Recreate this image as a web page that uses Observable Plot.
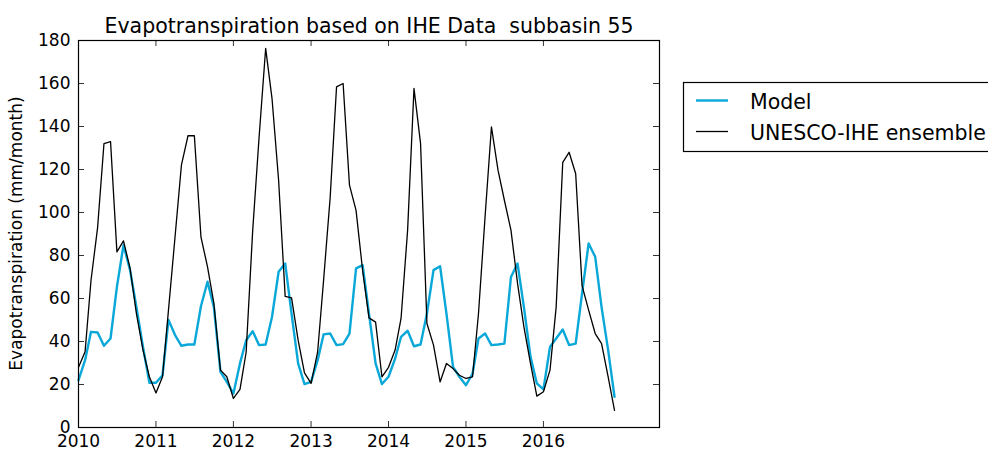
<!DOCTYPE html>
<html>
<head>
<meta charset="utf-8">
<script src="https://cdn.jsdelivr.net/npm/d3@7"></script>
<script src="https://cdn.jsdelivr.net/npm/@observablehq/plot@0.6"></script>
<style>
  html, body { margin: 0; padding: 0; background: white; }
  svg { display: block; }
</style>
</head>
<body>
<div id="chart"></div>
<script>
// ---- Data (monthly, Jan 2010 .. Dec 2016) ----
const startMonth = "2010-01-01";
const endMonth = "2017-01-01"; // exclusive
const model = [
  22, 31.3, 44.5, 44.2, 38, 41.4, 65.4, 84.8, 73.2, 56, 37.5, 20.8,
  20.8, 24.3, 50, 43, 38, 38.6, 38.6, 56.4, 67.8, 56, 25.9, 21.2,
  15.8, 29.8, 40.6, 44.8, 38.3, 38.6, 51.5, 72.4, 76.3, 53, 29.8, 20.2,
  21.2, 31.3, 43.3, 43.7, 38.3, 38.8, 43.7, 74, 75.5, 53, 29.8, 20.2,
  23.6, 32, 42.2, 45, 37.8, 38.6, 53, 73.2, 75, 53, 28.2, 23.6,
  19.7, 25, 41.4, 43.7, 38.3, 38.6, 39, 70, 76.3, 56, 33, 20.5,
  17.7, 37.5, 41.4, 45.6, 38.3, 39, 62.3, 85.6, 79.4, 56, 36, 14.3
];
const unesco = [
  28, 35.2, 68.5, 93, 132, 133, 81.7, 86.8, 74, 53, 36, 23.6,
  16.1, 23.6, 54.6, 88.7, 122, 135.7, 135.7, 88.7, 74.7, 57.7, 26.7, 23.6,
  13.5, 17.7, 35, 91.8, 135, 176.3, 153, 115, 61, 60.3, 40.6, 25.4,
  20.5, 35.2, 68.5, 107, 158.4, 160, 112.7, 101, 73, 51, 49, 23.6,
  28, 36, 50.7, 91.8, 157.7, 132, 48.4, 38.3, 21.2, 29.8, 27.4, 24.3,
  22.8, 23.6, 53, 98, 139.8, 119.7, 105.7, 91.8, 67, 46.8, 29.8, 14.6,
  16.6, 26.7, 56, 123.3, 128, 118, 66, 54.6, 43.7, 39, 23.6, 8
];
const xTickYears = [2010, 2011, 2012, 2013, 2014, 2015, 2016];
const yTicks = [0, 20, 40, 60, 80, 100, 120, 140, 160, 180];
const xDomain = ["2010-01-01", "2017-07-01"];
const yDomain = [0, 180];
const seriesNames = ["Model", "UNESCO-IHE ensemble"];
const seriesColors = ["#0aa8d8", "#000000"];
const titleText = "Evapotranspiration based on IHE Data  subbasin 55";
const yLabel = "Evapotranspiration (mm/month)";

// ---- Build table ----
const months = d3.utcMonths(new Date(startMonth), new Date(endMonth));
const data = months.map((d, i) => ({date: d, model: model[i], unesco: unesco[i]}));
const yearDates = xTickYears.map(y => new Date(Date.UTC(y, 0, 1)));

// ---- Layout ----
const W = 988, H = 450, mL = 78, mR = 329, mT = 40, mB = 23;
const iw = W - mL - mR, ih = H - mT - mB;
const tk = 6;

const chart = Plot.plot({
  width: W, height: H,
  marginLeft: mL, marginRight: mR, marginTop: mT, marginBottom: mB,
  style: {fontFamily: "DejaVu Sans", fontSize: "17px", color: "black", background: "white", overflow: "hidden"},
  x: {type: "utc", domain: xDomain.map(d => new Date(d))},
  y: {domain: yDomain},
  marks: [
    Plot.line(data, {x: "date", y: "model", stroke: seriesColors[0], strokeWidth: 2.4}),
    Plot.line(data, {x: "date", y: "unesco", stroke: seriesColors[1], strokeWidth: 1.3}),
    Plot.frame({stroke: "black", strokeWidth: 1.2}),
    // inward ticks on all four sides
    Plot.tickX(yearDates, {x: d => d, insetTop: ih - tk, stroke: "black", strokeWidth: 0.8}),
    Plot.tickX(yearDates, {x: d => d, insetBottom: ih - tk, stroke: "black", strokeWidth: 0.8}),
    Plot.tickY(yTicks, {y: d => d, insetRight: iw - tk, stroke: "black", strokeWidth: 0.8}),
    Plot.tickY(yTicks, {y: d => d, insetLeft: iw - tk, stroke: "black", strokeWidth: 0.8}),
    Plot.axisX(yearDates, {tickSize: 0, tickPadding: 7, tickFormat: d3.utcFormat("%Y"), label: null}),
    Plot.axisY(yTicks, {tickSize: 0, tickPadding: 8, label: null}),
    Plot.text([titleText], {frameAnchor: "top", dy: -8, lineAnchor: "bottom", fontSize: 20.5, text: d => d})
  ]
});

const svg = d3.select(chart);
// y label
svg.append("text")
  .attr("transform", `translate(22,${mT + ih / 2}) rotate(-90)`)
  .attr("text-anchor", "middle")
  .attr("font-size", 17)
  .attr("fill", "black")
  .text(yLabel);

// legend (outside, right)
const lg = svg.append("g").attr("text-anchor", "start");
lg.append("rect")
  .attr("x", 683.5).attr("y", 82.5).attr("width", 330).attr("height", 69)
  .attr("fill", "white").attr("stroke", "black").attr("stroke-width", 1.2);
seriesNames.forEach((name, i) => {
  const cy = 100.5 + i * 31;
  lg.append("line")
    .attr("x1", 696).attr("x2", 728).attr("y1", cy).attr("y2", cy)
    .attr("stroke", seriesColors[i]).attr("stroke-width", i === 0 ? 2.4 : 1.3);
  lg.append("text")
    .attr("x", 750).attr("y", cy + 8.2)
    .attr("text-anchor", "start")
    .attr("font-size", 20.5).attr("fill", "black")
    .text(name);
});

document.getElementById("chart").appendChild(chart);
</script>
</body>
</html>
